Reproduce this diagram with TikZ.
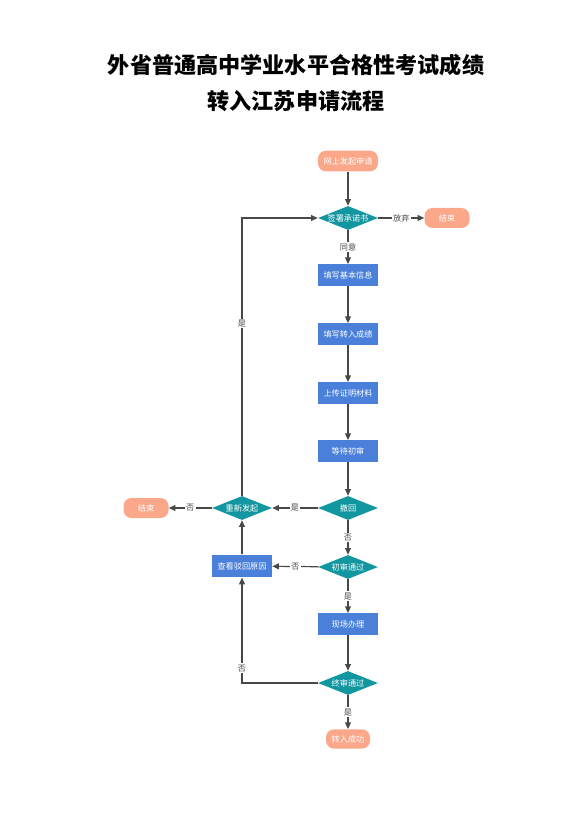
\documentclass[tikz,border=0pt]{standalone}
\usepackage{fontspec}
\setmainfont{Noto Sans CJK SC}
\usetikzlibrary{shapes.geometric}
\usetikzlibrary{arrows.meta}
\usepackage{xcolor}
\definecolor{termsalmon}{RGB}{250,167,138}
\definecolor{boxblue}{RGB}{74,128,218}
\definecolor{decteal}{RGB}{18,150,160}
\definecolor{flowgray}{RGB}{72,72,72}

\begin{document}
\begin{tikzpicture}[x=0.75pt,y=0.75pt,yscale=-1,xscale=1,
  every node/.style={inner sep=0pt,font=\fontsize{6.1}{7}\selectfont},
  term/.style={fill=termsalmon,text=white,rounded corners=6pt,minimum width=45pt,minimum height=15.5pt},
  proc/.style={fill=boxblue,text=white,minimum width=45pt,minimum height=16pt},
  decide/.style={diamond,aspect=2.5,fill=decteal,text=white,minimum width=45pt,minimum height=18pt},
  flow/.style={draw=flowgray,line width=0.9pt,-{Triangle[length=5pt,width=4.4pt]}},
  lbl/.style={fill=white,text=flowgray,inner sep=1pt}]
\useasboundingbox (0,0) rectangle (578,827);

% Title
\node (title1) at (296,65) {\fontsize{16.6}{19}\selectfont\bfseries 外省普通高中学业水平合格性考试成绩};
\node (title2) at (296,101) {\fontsize{16.6}{19}\selectfont\bfseries 转入江苏申请流程};

% Main column
\node [term] (start) at (348,161) {网上发起申请};
\node [decide] (sign) at (348,218) {签署承诺书};
\node [term,minimum width=33.75pt,minimum height=15pt] (quitend) at (447,218) {结束};
\node [proc] (basic) at (348,275) {填写基本信息};
\node [proc] (score) at (348,334) {填写转入成绩};
\node [proc] (upload) at (348,393) {上传证明材料};
\node [proc] (wait) at (348,451) {等待初审};
\node [decide] (withdraw) at (348,508) {撤回};
\node [decide] (first) at (348,567) {初审通过};
\node [proc] (onsite) at (348,624) {现场办理};
\node [decide] (final) at (348,683) {终审通过};
\node [term,minimum width=33pt,minimum height=14.5pt] (done) at (348,739) {转入成功};

% Left column
\node [decide] (redo) at (242,508) {重新发起};
\node [term,minimum width=33.75pt,minimum height=15pt] (stopend) at (146,508) {结束};
\node [proc,minimum height=17pt] (reason) at (242,566) {查看驳回原因};

% Connectors
\draw [flow] (start) -- (sign);
\draw [flow] (sign) -- node [lbl] {放弃} (quitend);
\draw [flow] (sign) -- node [lbl] {同意} (basic);
\draw [flow] (basic) -- (score);
\draw [flow] (score) -- (upload);
\draw [flow] (upload) -- (wait);
\draw [flow] (wait) -- (withdraw);
\draw [flow] (withdraw) -- node [lbl] {是} (redo);
\draw [flow] (redo) -- node [lbl] {否} (stopend);
\draw [flow] (withdraw) -- node [lbl] {否} (first);
\draw [flow] (first) -- node [lbl] {否} (reason);
\draw [flow] (first) -- node [lbl] {是} (onsite);
\draw [flow] (onsite) -- (final);
\draw [flow] (final) -- node [lbl] {是} (done);
\draw [flow] (final.west) -| node [lbl,pos=0.57] {否} (reason.south);
\draw [flow] (reason) -- (redo);
\draw [flow] (redo.north) |- node [lbl,pos=0.31] {是} (sign.west);

\end{tikzpicture}
\end{document}
